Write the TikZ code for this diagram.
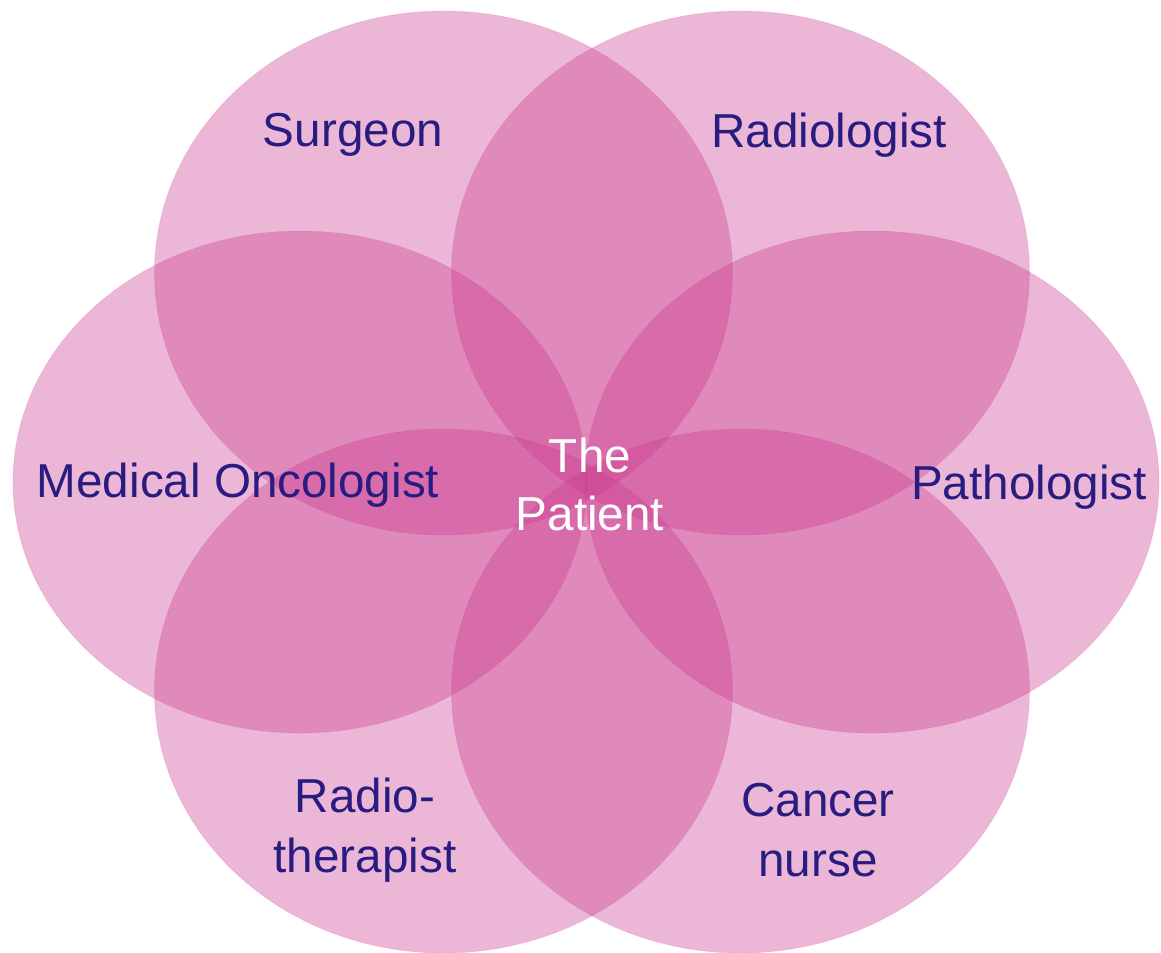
\documentclass[tikz,border=0pt]{standalone}
\usepackage{fontspec}
\setmainfont{Liberation Sans}
\definecolor{petalpink}{RGB}{202,56,141}
\definecolor{labelblue}{RGB}{40,28,128}

\begin{document}
\begin{tikzpicture}[
    petal/.style={fill=petalpink, fill opacity=0.36, draw=petalpink, draw opacity=0.15, line width=0.5pt},
    role/.style={text=labelblue, align=center, font=\fontsize{27.1}{34}\selectfont},
    centre/.style={text=white, align=center, font=\fontsize{27.1}{33}\selectfont}
]
        \useasboundingbox (-11.72,-9.40) rectangle (11.5,9.64);
        % Side petals
        \draw[petal] (-5.72,0) ellipse (5.74 and 5.02);
        \draw[petal] (5.72,0) ellipse (5.74 and 5.02);
        % Upper petals
        \draw[petal] (-2.85,4.18) ellipse (5.78 and 5.24);
        \draw[petal] (3.09,4.18) ellipse (5.78 and 5.24);
        % Lower petals
        \draw[petal] (-2.85,-4.18) ellipse (5.78 and 5.24);
        \draw[petal] (3.09,-4.18) ellipse (5.78 and 5.24);
        % Labels
        \node[role] (surgeon) at (-4.66,6.94) {Surgeon};
        \node[role] (radiologist) at (4.86,6.94) {Radiologist};
        \node[role] (oncologist) at (-6.96,-0.06) {Medical Oncologist};
        \node[role] (pathologist) at (8.86,-0.10) {Pathologist};
        \node[role] (radiotherapist) at (-4.42,-6.96) {Radio-\\therapist};
        \node[role] (nurse) at (4.64,-6.96) {Cancer\\nurse};
        % Centre
        \node[centre] (patient) at (0.08,-0.04) {The\\Patient};
\end{tikzpicture}
\end{document}
